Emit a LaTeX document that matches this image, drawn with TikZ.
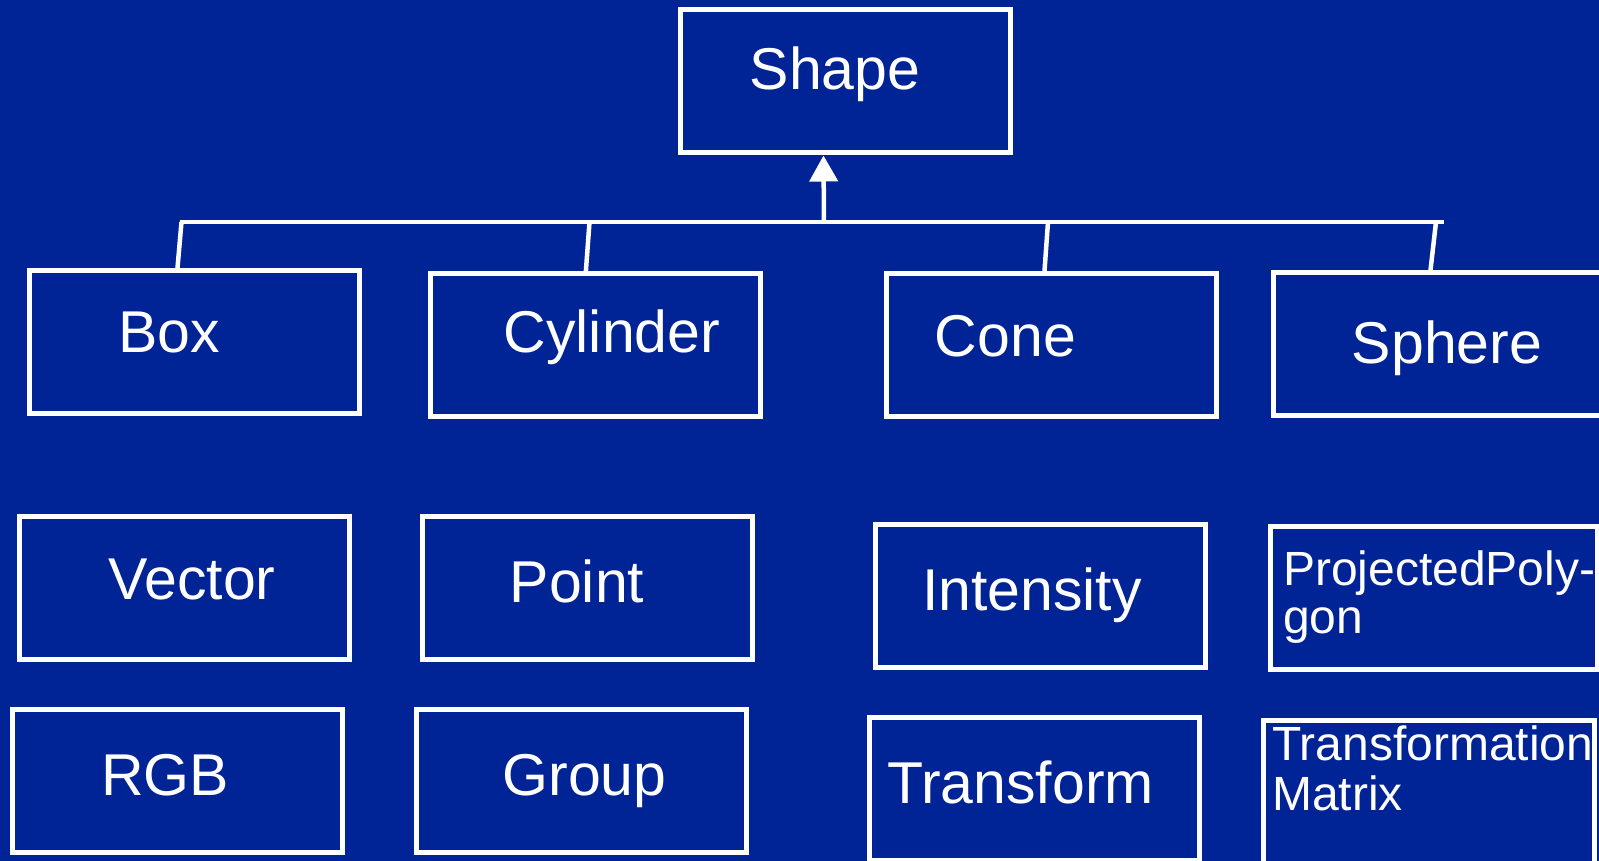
\documentclass[tikz,border=0pt]{standalone}
\usepackage{fontspec}
\setmainfont{Liberation Sans}
\usetikzlibrary{arrows.meta}
\definecolor{slideblue}{RGB}{0,35,150}
\tikzset{
  classbox/.style={draw=white, line width=5pt, rectangle, inner sep=0pt,
    minimum width=330pt, minimum height=143pt},
  biglabel/.style={text=white, inner sep=0pt, anchor=base,
    font=\fontsize{59}{70}\selectfont},
  smalllabel/.style={text=white, inner sep=0pt, anchor=base west, align=left,
    font=\fontsize{48}{48}\selectfont},
  wire/.style={draw=white, line width=4.5pt},
  inherit/.style={wire, -{Triangle[width=28pt,length=26pt]}},
}
\begin{document}
\begin{tikzpicture}[x=1pt,y=-1pt]
  \useasboundingbox (0,0) rectangle (1599,861);
  \fill[slideblue] (0,0) rectangle (1599,861);
  \clip (0,0) rectangle (1599,861);

  % base class
  \node[classbox] (shape) at (845.5,81.5) {};
  \node[biglabel] (shapeT) at (835,90) {Shape};

  % subclasses
  \node[classbox] (box) at (194,342) {};
  \node[biglabel] (boxT) at (169,352) {Box};
  \node[classbox] (cylinder) at (595,345) {};
  \node[biglabel] (cylinderT) at (612,352) {Cylinder};
  \node[classbox] (cone) at (1051,345) {};
  \node[biglabel] (coneT) at (1005.5,356) {Cone};
  \node[classbox] (sphere) at (1438.5,344) {};
  \node[biglabel] (sphereT) at (1447,363) {Sphere};

  % helper classes
  \node[classbox] (vector) at (184,587.5) {};
  \node[biglabel] (vectorT) at (192,599) {Vector};
  \node[classbox] (rgb) at (177.6,781) {};
  \node[biglabel] (rgbT) at (165,795) {RGB};
  \node[classbox] (point) at (587,587.5) {};
  \node[biglabel] (pointT) at (577,602) {Point};
  \node[classbox] (group) at (581,781) {};
  \node[biglabel] (groupT) at (584.5,795) {Group};
  \node[classbox] (intensity) at (1040.5,596) {};
  \node[biglabel] (intensityT) at (1032,610) {Intensity};
  \node[classbox] (transform) at (1034.5,789) {};
  \node[biglabel] (transformT) at (1020.5,803) {Transform};
  \node[classbox, minimum width=327pt] (projpoly) at (1433.5,598) {};
  \node[smalllabel] (projpolyT) at (1283,633) {ProjectedPoly-\\gon};
  \node[classbox, minimum width=331pt] (tmatrix) at (1429,791.5) {};
  \node[smalllabel, font=\fontsize{48}{50}\selectfont] (tmatrixT) at (1272,810) {Transformation\\Matrix};

  % inheritance bus
  \coordinate (busL) at (179.5,222);
  \coordinate (busR) at (1444,222);
  \coordinate (busShape) at (824,222);
  \coordinate (busBox) at (181.5,222);
  \coordinate (busCyl) at (589.5,222);
  \coordinate (busCone) at (1048,222);
  \coordinate (busSphere) at (1436,222);
  \draw[wire] (busL) -- (busR);
  \draw[wire] (busBox) -- ([xshift=151pt]box.north west);
  \draw[wire] (busCyl) -- ([xshift=158.4pt]cylinder.north west);
  \draw[wire] (busCone) -- ([xshift=161pt]cone.north west);
  \draw[wire] (busSphere) -- ([xshift=159.5pt]sphere.north west);
  \draw[inherit] (busShape) -- ([xshift=145.5pt]shape.south west);
\end{tikzpicture}
\end{document}
